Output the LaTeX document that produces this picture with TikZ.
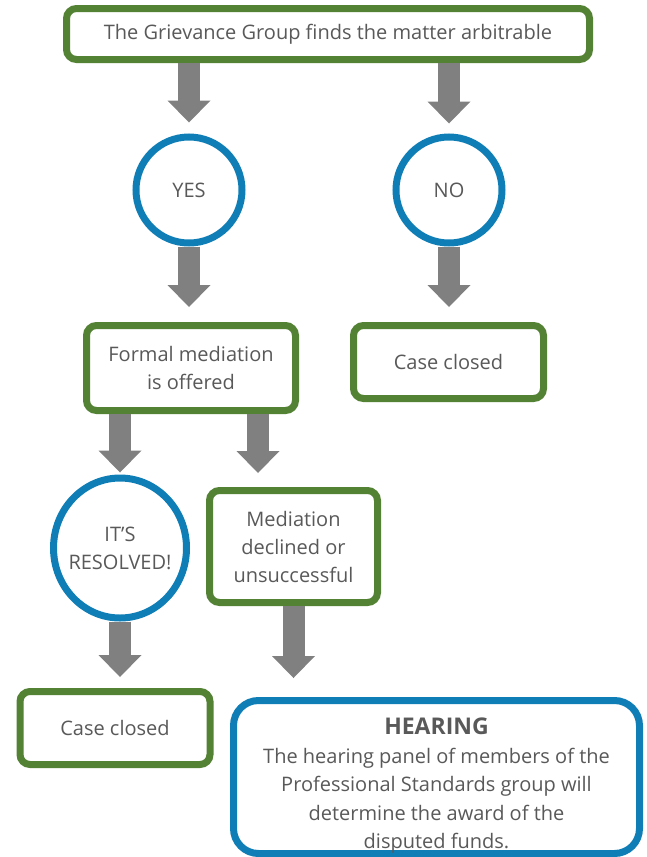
\documentclass[tikz,border=0pt]{standalone}
\usepackage{fontspec}
\setmainfont{Open Sans}
\usetikzlibrary{shapes.geometric, arrows.meta, positioning, calc}
\definecolor{boxgreen}{RGB}{84,130,53}
\definecolor{ringblue}{RGB}{16,126,182}
\definecolor{arrowgray}{RGB}{128,128,128}
\definecolor{textgray}{RGB}{89,89,89}
\tikzstyle{stepbox} = [rectangle, draw=boxgreen, line width=7pt, fill=white, rounded corners=10pt, text centered, text=textgray, align=center, inner sep=0pt, font=\fontsize{20}{28}\selectfont]
\tikzstyle{answer} = [ellipse, draw=ringblue, line width=7pt, fill=white, text centered, text=textgray, align=center, inner xsep=-6pt, inner ysep=0pt, font=\fontsize{20}{28}\selectfont]
\tikzstyle{hearingbox} = [stepbox, draw=ringblue, rounded corners=25pt, font=\fontsize{20}{28.5}\selectfont]
\tikzstyle{arrow} = [arrowgray, line width=22pt, -{Triangle[width=43pt, length=22pt, line width=0pt]}]

\begin{document}
\begin{tikzpicture}[x=1pt, y=-1pt]
    \useasboundingbox (0,0) rectangle (647,857);
    % Nodes
    \node (top) [stepbox, minimum width=523pt, minimum height=51pt] at (328,34) {The Grievance Group finds the matter arbitrable};
    \node (yes) [answer, minimum size=106pt] at (189,190) {YES};
    \node (no) [answer, minimum size=106pt] at (449,190) {NO};
    \node (formal) [stepbox, minimum width=209pt, minimum height=85pt] at (191,368) {Formal mediation\\is offered};
    \node (closedR) [stepbox, minimum width=190pt, minimum height=73pt] at (448.5,362) {Case closed};
    \node (resolved) [answer, minimum width=133pt, minimum height=140pt] at (120,548) {IT’S\\RESOLVED!};
    \node (med) [stepbox, minimum width=168pt, minimum height=112pt] at (293.5,546.5) {Mediation\\declined or\\unsuccessful};
    \node (closedL) [stepbox, minimum width=190pt, minimum height=73pt] at (115,728) {Case closed};
    \node (hearing) [hearingbox, minimum width=406pt, minimum height=153pt] at (436.5,777) {\rule{0pt}{34pt}{\fontsize{23}{28}\selectfont\bfseries HEARING}\\The hearing panel of members of the\\Professional Standards group will\\determine the award of the\\disputed funds.};

    % Arrows
    \draw [arrow] (top.south -| yes) -- ([yshift=11pt]yes.north);
    \draw [arrow] (top.south -| no) -- ([yshift=10pt]no.north);
    \draw [arrow] (yes.south) -- ($(yes.south |- formal.north)+(0,-15)$);
    \draw [arrow] (no.south) -- ($(no.south |- closedR.north)+(0,-15)$);
    \draw [arrow] (formal.south -| resolved) -- ([yshift=2pt]resolved.north);
    \draw [arrow] ([xshift=67pt]formal.south) -- ([xshift=-35.5pt,yshift=14pt]med.north);
    \draw [arrow] (resolved.south) -- ($(resolved.south |- closedL.north)+(0,-11)$);
    \draw [arrow] (med.south) -- ($(med.south |- hearing.north)+(0,-19)$);
\end{tikzpicture}
\end{document}
